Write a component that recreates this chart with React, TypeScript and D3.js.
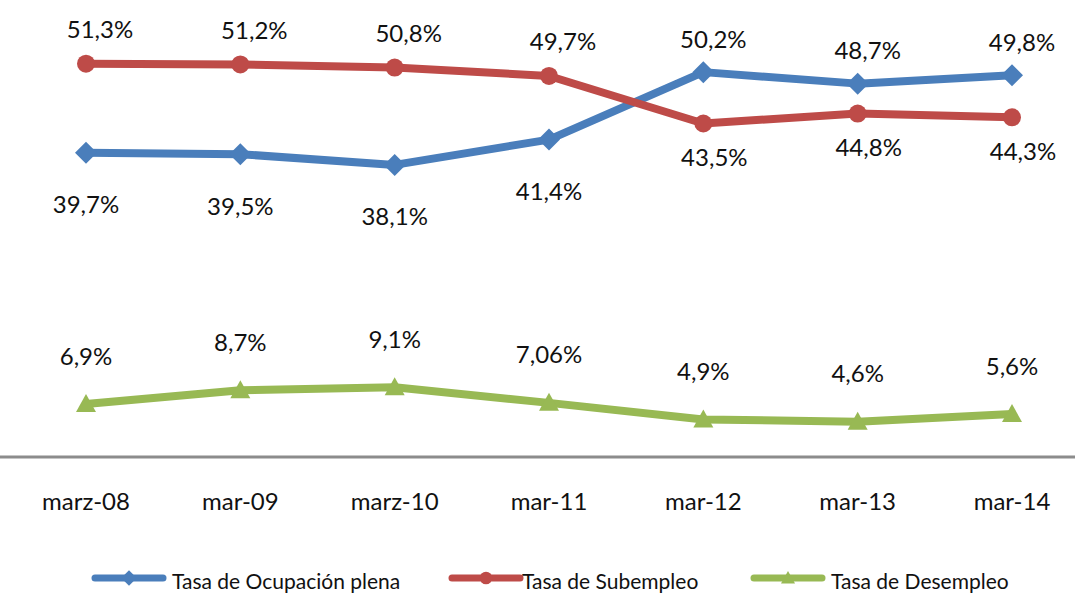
import React from "react";
import * as d3 from "d3";

const categories = ["marz-08", "mar-09", "marz-10", "mar-11", "mar-12", "mar-13", "mar-14"];
const ocupacion = [39.7, 39.5, 38.1, 41.4, 50.2, 48.7, 49.8];
const subempleo = [51.3, 51.2, 50.8, 49.7, 43.5, 44.8, 44.3];
const desempleo = [6.9, 8.7, 9.1, 7.06, 4.9, 4.6, 5.6];
const ocupacionLabels = ["39,7%", "39,5%", "38,1%", "41,4%", "50,2%", "48,7%", "49,8%"];
const subempleoLabels = ["51,3%", "51,2%", "50,8%", "49,7%", "43,5%", "44,8%", "44,3%"];
const desempleoLabels = ["6,9%", "8,7%", "9,1%", "7,06%", "4,9%", "4,6%", "5,6%"];
// label placement: -1 above, +1 below
const ocupacionPos = [1, 1, 1, 1, -1, -1, -1];
const subempleoPos = [-1, -1, -1, -1, 1, 1, 1];
const desempleoPos = [-1, -1, -1, -1, -1, -1, -1];
const seriesNames = ["Tasa de Ocupación plena", "Tasa de Subempleo", "Tasa de Desempleo"];

const W = 1075;
const H = 595;
const FONT = "Lato, 'Open Sans', sans-serif";

const x = d3.scalePoint<string>().domain(categories).range([86, 1012]);
const y = d3.scaleLinear().domain([0, 60]).range([457, -3]);

const COLORS = ["#4A7EBB", "#BE4B48", "#98B954"];

function Marker({ kind, cx, cy, color, k = 1 }: { kind: string; cx: number; cy: number; color: string; k?: number }) {
  if (kind === "diamond") {
    const s = 11 * k;
    return <path d={`M${cx},${cy - s}L${cx + s},${cy}L${cx},${cy + s}L${cx - s},${cy}Z`} fill={color} />;
  }
  if (kind === "circle") {
    return <circle cx={cx} cy={cy} r={9 * k} fill={color} />;
  }
  const w = 10 * k;
  return <path d={`M${cx},${cy - 10 * k}L${cx + w},${cy + 8 * k}L${cx - w},${cy + 8 * k}Z`} fill={color} />;
}

export default function App() {
  const series = [
    { values: ocupacion, labels: ocupacionLabels, pos: ocupacionPos, kind: "diamond" },
    { values: subempleo, labels: subempleoLabels, pos: subempleoPos, kind: "circle" },
    { values: desempleo, labels: desempleoLabels, pos: desempleoPos, kind: "triangle" },
  ];
  const line = d3
    .line<number>()
    .x((_, i) => x(categories[i]) as number)
    .y((d) => y(d));

  const legendX = [95, 452, 754];

  return (
    <svg width={W} height={H} style={{ position: "absolute", left: 0, top: 0, background: "#fff" }} fontFamily={FONT}>
      <rect width={W} height={H} fill="#fff" />
      <line x1={0} x2={W} y1={457} y2={457} stroke="#8c8c8c" strokeWidth={3} />
      {categories.map((c) => (
        <text key={c} x={x(c)} y={500} textAnchor="middle" dominantBaseline="central" fontSize={24} fill="#111">
          {c}
        </text>
      ))}
      {series.map((s, si) => (
        <g key={si}>
          <path d={line(s.values) || ""} fill="none" stroke={COLORS[si]} strokeWidth={8} strokeLinejoin="round" />
          {s.values.map((v, i) => (
            <Marker key={i} kind={s.kind} cx={x(categories[i]) as number} cy={y(v)} color={COLORS[si]} />
          ))}
          {s.values.map((v, i) => {
            const above = s.pos[i] < 0;
            const off = si === 0 ? (above ? -34 : 51) : si === 1 ? (above ? -35 : 33) : -49;
            const dx = si === 1 ? (above ? 14 : 11) : si === 0 && above ? 10 : 0;
            return (
              <text
                key={"l" + i}
                x={(x(categories[i]) as number) + dx}
                y={y(v) + off}
                textAnchor="middle"
                dominantBaseline="central"
                fontSize={24}
                fill="#111"
              >
                {s.labels[i]}
              </text>
            );
          })}
        </g>
      ))}
      {seriesNames.map((n, i) => {
        const lx = legendX[i];
        return (
          <g key={n}>
            <line x1={lx} x2={lx + 68} y1={578} y2={578} stroke={COLORS[i]} strokeWidth={7} strokeLinecap="round" />
            <Marker kind={series[i].kind} cx={lx + 34} cy={578} color={COLORS[i]} k={0.7} />
            <text x={lx + (i === 1 ? 70 : 77)} y={580} dominantBaseline="central" fontSize={21} fill="#111">
              {n}
            </text>
          </g>
        );
      })}
    </svg>
  );
}
